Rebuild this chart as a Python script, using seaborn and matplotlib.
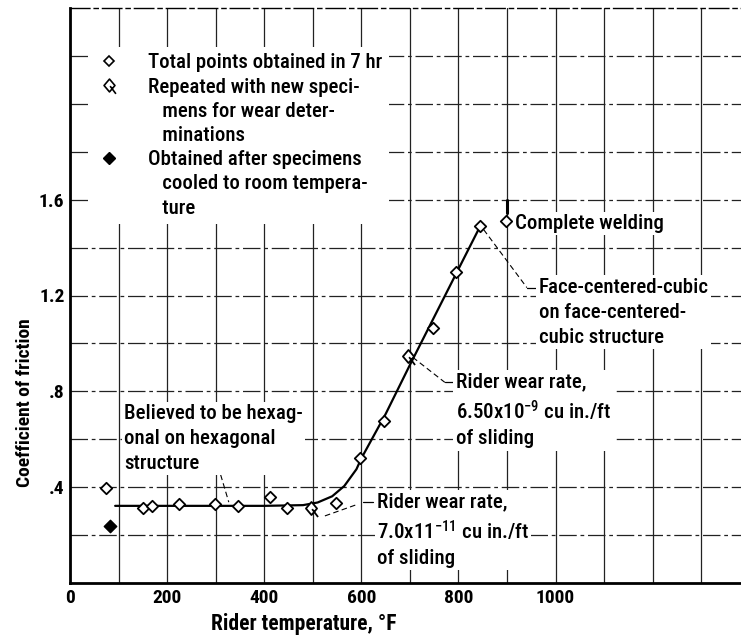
import numpy as np
import pandas as pd
import matplotlib
matplotlib.use("Agg")
import matplotlib.pyplot as plt
import seaborn as sns
from matplotlib.path import Path
from matplotlib.lines import Line2D
from matplotlib import font_manager

# ---------------- data ----------------
temp_total = [75, 150, 168, 225, 299, 347, 411, 447, 548, 597, 646, 748, 796, 845, 897]
cof_total = [0.395, 0.311, 0.322, 0.328, 0.329, 0.322, 0.361, 0.312, 0.336, 0.52,
             0.676, 1.065, 1.297, 1.49, 1.51]
temp_repeated = [497, 696]
cof_repeated = [0.315, 0.946]
temp_cooled = [82]
cof_cooled = [0.24]

curve_temp = [93, 200, 300, 400, 480, 510, 540, 565, 590, 600, 650, 700, 750, 800, 845]
curve_cof = [0.322, 0.322, 0.322, 0.322, 0.325, 0.336, 0.362, 0.405, 0.475, 0.52,
             0.705, 0.91, 1.11, 1.31, 1.49]

x_tick_values = [0, 200, 400, 600, 800, 1000]
x_tick_labels = ["0", "200", "400", "600", "800", "1000"]
y_tick_values = [0.4, 0.8, 1.2, 1.6]
y_tick_labels = [".4", ".8", "1.2", "1.6"]

legend_lines = ["Total points obtained in 7 hr",
                "Repeated with new speci-",
                "   mens for wear deter-",
                "   minations",
                "Obtained after specimens",
                "   cooled to room tempera-",
                "   ture"]

# ---------------- style ----------------
sns.set_style("white")
names = {f.name for f in font_manager.fontManager.ttflist}
fam = "Roboto Condensed" if "Roboto Condensed" in names else "DejaVu Sans"
plt.rcParams["font.family"] = [fam, "DejaVu Sans"]
plt.rcParams["mathtext.default"] = "regular"
for k in ["text.color", "axes.labelcolor", "xtick.color", "ytick.color"]:
    plt.rcParams[k] = "black"

FS = 15
W = "medium"

fig = plt.figure(figsize=(7.41, 6.38), dpi=100)
ax = fig.add_axes([70 / 741, 55 / 638, 671 / 741, 575 / 638])

# curve
curve_df = pd.DataFrame({"t": curve_temp, "c": curve_cof})
sns.lineplot(data=curve_df, x="t", y="c", sort=False, estimator=None, color="black",
             linewidth=1.6, ax=ax, zorder=3)

# points
total_df = pd.DataFrame({"t": temp_total, "c": cof_total})
rep_df = pd.DataFrame({"t": temp_repeated, "c": cof_repeated})
cool_df = pd.DataFrame({"t": temp_cooled, "c": cof_cooled})

flag = Path([(0, 1), (0.85, 0), (0, -1), (-0.85, 0), (0, 1), (0.1, -0.1), (1.0, -1.3)],
            [Path.MOVETO, Path.LINETO, Path.LINETO, Path.LINETO, Path.CLOSEPOLY,
             Path.MOVETO, Path.LINETO])

sns.scatterplot(data=total_df, x="t", y="c", marker="D", s=34, color="white",
                edgecolor="black", linewidth=1.3, ax=ax, zorder=5)
sns.scatterplot(data=rep_df, x="t", y="c", marker=flag, s=150, color="white",
                edgecolor="black", linewidth=1.3, ax=ax, zorder=5)
sns.scatterplot(data=cool_df, x="t", y="c", marker="D", s=40, color="black",
                edgecolor="black", linewidth=1.0, ax=ax, zorder=5)

# axes limits, ticks, grid
ax.set_xlim(0, 1382)
ax.set_ylim(0, 2.4)
ax.set_xticks(x_tick_values)
ax.set_xticklabels(x_tick_labels)
ax.set_xticks(np.arange(100, 1400, 100), minor=True)
ax.set_yticks(y_tick_values)
ax.set_yticklabels(y_tick_labels)
ax.set_yticks(np.arange(0.2, 2.4, 0.2), minor=True)
ax.tick_params(which="both", length=0, pad=4, labelsize=14)
for lab in ax.get_xticklabels() + ax.get_yticklabels():
    lab.set_fontweight("bold")
ax.xaxis.grid(True, which="both", color="#222222", linewidth=0.9, linestyle="-")
ax.yaxis.grid(True, which="both", color="#222222", linewidth=0.9,
              linestyle=(0, (14, 3, 3, 3)))
ax.set_axisbelow(True)

for s in ["left", "bottom"]:
    ax.spines[s].set_linewidth(2.0)
    ax.spines[s].set_color("black")
ax.spines["top"].set_linewidth(1.0)
ax.spines["top"].set_color("black")
ax.spines["top"].set_linestyle((0, (14, 3, 3, 3)))
ax.spines["right"].set_visible(False)

ax.set_xlabel("Rider temperature, °F", fontsize=15.5, fontweight="bold")
ax.xaxis.set_label_coords(0.348, -0.052)
ax.set_ylabel("Coefficient of friction", fontsize=14, fontweight="bold")
ax.yaxis.set_label_coords(-0.053, 0.313)

# legend
if ax.get_legend():
    ax.get_legend().remove()
blank = Line2D([], [], linestyle="none", marker=None)
h_open = Line2D([], [], linestyle="none", marker="D", markersize=5.2,
                markerfacecolor="white", markeredgecolor="black", markeredgewidth=1.2)
h_flag = Line2D([], [], linestyle="none", marker=flag, markersize=12,
                markerfacecolor="white", markeredgecolor="black", markeredgewidth=1.2)
h_fill = Line2D([], [], linestyle="none", marker="D", markersize=6.5,
                markerfacecolor="black", markeredgecolor="black")
leg = ax.legend([h_open, h_flag, blank, blank, h_fill, blank, blank], legend_lines,
                loc="upper left", bbox_to_anchor=(0.03, 0.932), frameon=True,
                prop={"size": FS, "weight": W}, labelspacing=0.25, handlelength=1.2,
                handletextpad=1.3, borderpad=0.3, borderaxespad=0)
leg.get_frame().set_facecolor("white")
leg.get_frame().set_edgecolor("none")
leg.get_frame().set_alpha(1)
leg.set_zorder(6)

# annotations
box = dict(facecolor="white", edgecolor="none", pad=1.5)
tk = dict(fontsize=FS, fontweight=W, ha="left", va="top", linespacing=1.4, bbox=box, zorder=6)
ax.text(916, 1.54, "Complete welding", **tk)
ax.plot([900, 900], [1.545, 1.6], color="black", linewidth=2.2, zorder=4)

ax.text(965, 1.275, "Face-centered-cubic\non face-centered-\ncubic structure", **tk)
ax.plot([852, 941], [1.475, 1.233], color="black", linewidth=0.8, linestyle=(0, (5, 3)), zorder=2)
ax.plot([941, 962], [1.233, 1.233], color="black", linewidth=0.9, zorder=2)

ax.text(794, 0.88, "Rider wear rate,\n6.50x10$^{-9}$ cu in./ft\nof sliding", **tk)
ax.plot([706, 772], [0.942, 0.8375], color="black", linewidth=0.8, linestyle=(0, (5, 3)), zorder=2)
ax.plot([772, 790], [0.8375, 0.8375], color="black", linewidth=0.9, zorder=2)

ax.text(632, 0.38, "Rider wear rate,\n7.0x11$^{-11}$ cu in./ft\nof sliding", **tk)
ax.plot([525, 593], [0.28, 0.329], color="black", linewidth=0.8, linestyle=(0, (5, 3)), zorder=2)
ax.plot([603, 624], [0.3375, 0.3375], color="black", linewidth=0.9, zorder=2)

ax.text(111, 0.747, "Believed to be hexag-\nonal on hexagonal\nstructure", **tk)
ax.plot([294, 305], [0.4875, 0.4875], color="black", linewidth=0.9, zorder=2)
ax.plot([305, 327], [0.4875, 0.3375], color="black", linewidth=0.8, linestyle=(0, (5, 3)), zorder=2)

fig.savefig("out.png", dpi=100)
